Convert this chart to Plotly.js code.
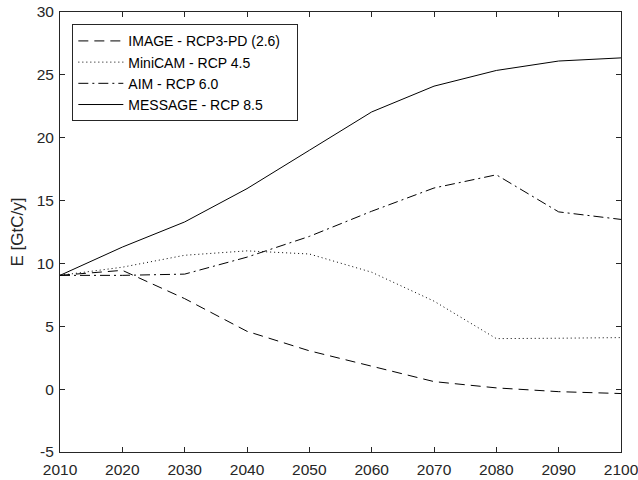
<!DOCTYPE html>
<html>
<head>
<meta charset="utf-8">
<script src="https://cdn.plot.ly/plotly-3.0.1.min.js"></script>
<style>html,body{margin:0;padding:0;background:#fff;}#chart{width:638px;height:480px;}</style>
</head>
<body>
<div id="chart"></div>
<script>
const years = [2010, 2020, 2030, 2040, 2050, 2060, 2070, 2080, 2090, 2100];
const image26 = [9.05, 9.45, 7.2, 4.6, 3.05, 1.8, 0.6, 0.1, -0.2, -0.35];
const minicam45 = [9.05, 9.7, 10.65, 11.0, 10.75, 9.3, 7.0, 4.02, 4.05, 4.1];
const aim60 = [9.05, 9.05, 9.15, 10.5, 12.15, 14.15, 16.0, 17.05, 14.1, 13.5];
const message85 = [9.05, 11.3, 13.3, 15.95, 19.0, 22.05, 24.1, 25.35, 26.1, 26.35];
const seriesNames = ['IMAGE - RCP3-PD (2.6)', 'MiniCAM - RCP 4.5', 'AIM - RCP 6.0', 'MESSAGE - RCP 8.5'];
const xTicks = [2010, 2020, 2030, 2040, 2050, 2060, 2070, 2080, 2090, 2100];
const yTicks = [-5, 0, 5, 10, 15, 20, 25, 30];

const FONT = 'Liberation Sans, Arial, Helvetica, sans-serif';
const dashes = ['10px,6px', '1px,3px', '10px,4px,2px,4px', 'solid'];
const PAD = '\u00a0\u00a0\u00a0';
const data = [image26, minicam45, aim60, message85].map((ys, i) => ({
  x: years, y: ys, type: 'scatter', mode: 'lines',
  name: i === 0 ? seriesNames[i] + PAD : seriesNames[i],
  line: {color: '#000', width: 1, dash: dashes[i]}
}));

const axisCommon = {
  showline: true, linecolor: '#262626', linewidth: 1, mirror: 'ticks',
  ticks: 'inside', ticklen: 5, tickcolor: '#262626', tickwidth: 1,
  showgrid: false, zeroline: false,
  tickfont: {family: FONT, size: 15.5, color: '#262626'}
};

const layout = {
  width: 638, height: 480,
  margin: {l: 60, r: 17, t: 12, b: 28},
  paper_bgcolor: '#fff', plot_bgcolor: '#fff',
  showlegend: true,
  legend: {
    x: 0.022, y: 0.972, xanchor: 'left', yanchor: 'top',
    bordercolor: '#262626', borderwidth: 1, bgcolor: '#fff',
    font: {family: FONT, size: 14, color: '#000'},
    tracegroupgap: 0, itemwidth: 45
  },
  xaxis: Object.assign({}, axisCommon, {
    range: [2010, 2100], tickvals: xTicks, ticktext: xTicks.map(String),
    ticklabelstandoff: 3, ticklabeloverflow: 'allow'
  }),
  yaxis: Object.assign({}, axisCommon, {
    range: [-5, 30], tickvals: yTicks, ticktext: yTicks.map(String),
    ticklabelstandoff: 2, ticklabeloverflow: 'allow',
    title: {text: 'E [GtC/y]', standoff: 8,
      font: {family: FONT, size: 17, color: '#262626'}}
  })
};

Plotly.newPlot('chart', data, layout, {displayModeBar: false, staticPlot: true});
</script>
</body>
</html>
